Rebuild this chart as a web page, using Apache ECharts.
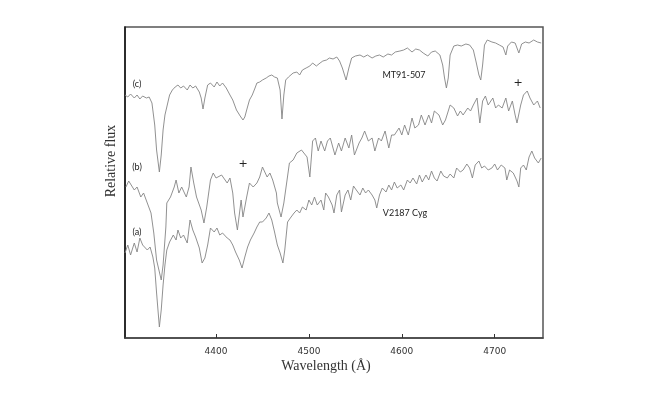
<!DOCTYPE html>
<html>
<head>
<meta charset="utf-8">
<title>Spectra</title>
<script src="https://cdn.jsdelivr.net/npm/echarts@6/dist/echarts.min.js"></script>
<style>
  html, body { margin: 0; padding: 0; background: #fff; }
  #chart { width: 664px; height: 396px; }
</style>
</head>
<body>
<div id="chart"></div>
<script>
// wavelength ticks (Å)
const tickLabels = [4400, 4500, 4600, 4700];

// (c) MT91-507
const waveC = [4302,4305,4308,4312,4315,4318,4321,4325,4328,4331,
  4334,4336,4339,4341,4343,4345,4347,4350,4353,4356,
  4359,4362,4365,4369,4372,4375,4378,4382,4384,4386,
  4388,4391,4394,4398,4401,4404,4407,4411,4415,4418,
  4422,4426,4429,4431,4433,4436,4439,4442,4444,4447,
  4450,4454,4457,4460,4463,4466,4469,4471,4473,4475,
  4478,4483,4487,4490,4493,4497,4501,4504,4508,4512,
  4515,4519,4522,4526,4530,4533,4536,4540,4543,4546,
  4550,4555,4559,4563,4568,4572,4576,4580,4585,4589,
  4593,4598,4602,4606,4611,4615,4619,4623,4628,4632,
  4636,4641,4644,4646,4648,4650,4652,4656,4660,4664,
  4669,4673,4677,4680,4683,4685,4687,4689,4692,4697,
  4701,4705,4709,4712,4714,4718,4722,4726,4729,4733,
  4737,4742,4746,4750];
const fluxC = [243,241,244,240,243,239,242,240,241,235,
  213,188,166,183,208,223,231,243,248,251,
  253,250,252,248,253,250,252,246,240,229,
  240,253,255,251,256,252,255,250,243,238,
  228,222,218,221,228,238,243,250,255,256,
  258,260,262,263,261,260,248,219,243,258,
  261,265,266,263,268,270,272,275,272,275,
  277,278,280,279,281,277,270,258,270,280,
  282,283,281,283,280,282,283,281,284,283,
  286,287,288,290,286,289,288,285,282,286,
  287,283,273,260,250,260,283,292,293,292,
  294,293,288,276,263,258,273,293,298,296,
  295,293,291,283,292,296,295,285,294,296,
  295,298,296,295];

// (b)
const waveB = [4303,4306,4308,4312,4315,4319,4322,4326,4330,4333,
  4336,4341,4343,4346,4347,4351,4355,4357,4360,4363,
  4368,4371,4373,4376,4379,4384,4387,4390,4394,4397,
  4400,4402,4406,4412,4415,4418,4420,4423,4427,4429,
  4433,4436,4440,4444,4447,4450,4455,4458,4461,4465,
  4466,4470,4473,4476,4479,4483,4487,4492,4498,4501,
  4504,4507,4510,4513,4517,4520,4523,4528,4532,4535,
  4539,4543,4546,4549,4554,4557,4560,4564,4568,4571,
  4575,4578,4582,4586,4589,4592,4597,4600,4603,4607,
  4611,4614,4618,4621,4625,4629,4632,4635,4640,4644,
  4647,4652,4656,4660,4663,4666,4671,4674,4677,4681,
  4684,4687,4690,4693,4698,4701,4704,4708,4712,4715,
  4719,4722,4724,4728,4731,4735,4738,4742,4746,4749];
const fluxB = [151,157,158,148,151,141,145,135,125,105,
  78,58,73,111,135,141,151,158,145,151,
  141,151,171,155,141,128,115,131,158,165,
  160,158,163,155,160,145,125,108,138,121,
  141,155,151,155,161,171,161,165,158,145,
  135,121,135,155,175,178,185,188,181,161,
  197,200,187,197,187,197,200,183,195,187,
  200,190,203,183,195,200,207,197,200,187,
  200,197,207,190,203,203,210,203,213,203,
  220,210,213,223,213,223,215,227,223,213,
  218,233,230,222,227,223,230,227,233,240,
  215,237,242,233,240,230,233,230,240,227,
  237,223,215,233,243,247,240,233,237,230];

// (a) V2187 Cyg
const waveA = [4302,4305,4308,4312,4315,4318,4321,4326,4329,4332,
  4334,4336,4339,4341,4343,4345,4347,4350,4354,4357,
  4359,4362,4365,4369,4372,4375,4378,4382,4385,4388,
  4391,4394,4398,4401,4404,4407,4412,4415,4418,4421,
  4425,4428,4431,4434,4437,4441,4444,4447,4450,4454,
  4457,4460,4463,4466,4469,4472,4474,4477,4480,4484,
  4487,4490,4493,4497,4500,4503,4506,4509,4513,4516,
  4518,4521,4525,4527,4530,4533,4535,4539,4542,4545,
  4548,4551,4555,4558,4561,4564,4568,4571,4573,4576,
  4579,4583,4586,4589,4592,4595,4599,4602,4606,4609,
  4612,4616,4619,4622,4626,4629,4632,4635,4638,4642,
  4645,4649,4652,4656,4659,4663,4666,4670,4673,4676,
  4679,4683,4686,4689,4693,4697,4700,4703,4707,4711,
  4713,4716,4720,4724,4726,4728,4731,4734,4737,4740,
  4743,4747,4750];
const fluxA = [85,93,83,95,86,100,93,88,91,81,
  70,45,11,28,53,73,88,96,103,98,
  108,100,103,95,118,108,101,90,75,80,
  93,110,106,110,103,105,100,98,93,86,
  78,70,81,91,98,105,111,116,116,120,
  125,118,106,93,85,75,88,116,120,125,
  128,125,131,128,138,133,141,133,138,128,
  145,141,133,125,143,148,126,143,148,138,
  152,148,143,150,145,148,143,138,130,143,
  150,146,153,148,156,150,153,148,158,155,
  160,154,163,156,163,158,167,160,157,167,
  162,160,164,160,170,166,168,174,170,160,
  173,177,170,172,168,170,174,168,173,170,
  158,168,165,157,151,170,173,168,181,187,
  180,175,180];

const zip = (w, f) => w.map((x, i) => [x, f[i]]);

const chart = echarts.init(document.getElementById('chart'));

const lineStyle = { color: '#858585', width: 0.9 };
const labelFont = { fontFamily: 'Lato', fontSize: 9, fill: '#222' };

const option = {
    animation: false,
    grid: {
        left: 125, right: 121, top: 27, bottom: 58,
        show: true, borderColor: '#555', borderWidth: 1.5, backgroundColor: 'transparent'
    },
    xAxis: {
        type: 'value',
        min: 4302,
        max: 4752,
        splitLine: { show: false },
        axisLine: { lineStyle: { color: '#444', width: 1.5 } },
        axisTick: { inside: true, length: 4, customValues: tickLabels, lineStyle: { color: '#333' } },
        axisLabel: {
            customValues: tickLabels,
            formatter: v => String(v),
            color: '#333', fontFamily: 'DejaVu Sans', fontSize: 9, margin: 9
        }
    },
    yAxis: {
        type: 'value',
        min: 0,
        max: 311,
        splitLine: { show: false },
        axisLine: { show: true, lineStyle: { color: '#111', width: 1.5 } },
        axisTick: { show: false },
        axisLabel: { show: false }
    },
    series: [
        { name: 'c', type: 'line', data: zip(waveC, fluxC), showSymbol: false, lineStyle },
        { name: 'b', type: 'line', data: zip(waveB, fluxB), showSymbol: false, lineStyle },
        { name: 'a', type: 'line', data: zip(waveA, fluxA), showSymbol: false, lineStyle }
    ],
    graphic: [
        { type: 'text', x: 111, y: 161, rotation: Math.PI / 2,
          style: { text: 'Relative flux', fontFamily: 'Liberation Serif', fontSize: 14, fill: '#333',
                   textAlign: 'center', textVerticalAlign: 'middle' } },
        { type: 'text', x: 326, y: 366,
          style: { text: 'Wavelength (Å)', fontFamily: 'Liberation Serif', fontSize: 14, fill: '#333',
                   textAlign: 'center', textVerticalAlign: 'middle' } },
        { type: 'text', x: 137, y: 84, style: Object.assign({ text: '(c)', textAlign: 'center', textVerticalAlign: 'middle' }, labelFont) },
        { type: 'text', x: 137, y: 167, style: Object.assign({ text: '(b)', textAlign: 'center', textVerticalAlign: 'middle' }, labelFont) },
        { type: 'text', x: 137, y: 232, style: Object.assign({ text: '(a)', textAlign: 'center', textVerticalAlign: 'middle' }, labelFont) },
        { type: 'text', x: 404, y: 75, style: Object.assign({ text: 'MT91-507', textAlign: 'center', textVerticalAlign: 'middle' }, labelFont) },
        { type: 'text', x: 405, y: 213, style: Object.assign({ text: 'V2187 Cyg', textAlign: 'center', textVerticalAlign: 'middle' }, labelFont) },
        { type: 'text', x: 243, y: 164, style: { text: '+', fontFamily: 'DejaVu Sans', fontSize: 11, fill: '#222', textAlign: 'center', textVerticalAlign: 'middle' } },
        { type: 'text', x: 518, y: 83, style: { text: '+', fontFamily: 'DejaVu Sans', fontSize: 11, fill: '#222', textAlign: 'center', textVerticalAlign: 'middle' } }
    ]
};

chart.setOption(option);
</script>
</body>
</html>
